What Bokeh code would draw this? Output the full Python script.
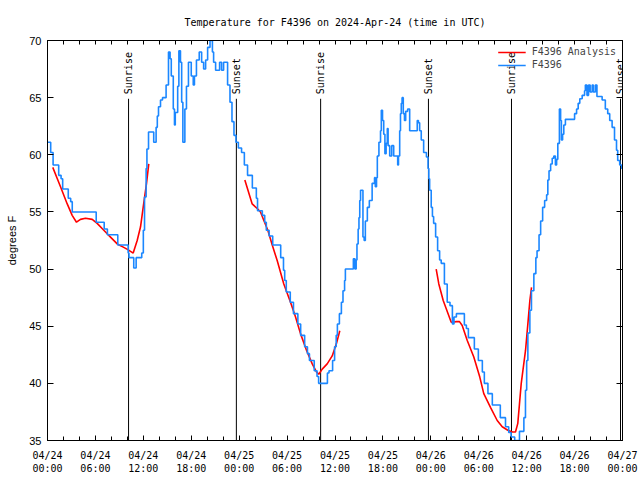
import math
from bokeh.plotting import figure
from bokeh.models import (FixedTicker, Range1d, LinearAxis, ColumnDataSource,
                          Legend, LegendItem)
from bokeh.embed import file_html
from bokeh.resources import INLINE
from bokeh.core.properties import value

# ---------------- data ----------------
title_text = "Temperature for F4396 on 2024-Apr-24 (time in UTC)"
y_label = "degrees F"
obs_name = "F4396"
ana_name = "F4396 Analysis"

# hours since 2024-04-24 00:00 UTC
obs_hours = [0.0, 0.4, 0.7, 1.4, 1.7, 1.9, 2.6, 2.9, 3.1, 6.1, 7.1, 7.5, 8.8, 10.1, 10.2, 10.8, 11.1, 11.8,
             12.0, 12.15, 12.35, 12.45, 12.65, 13.3, 13.6, 13.75, 13.9, 14.15, 14.4, 14.85, 15.15, 15.35,
             15.5, 15.75, 15.9, 16.0, 16.3, 16.45, 16.65, 16.8, 16.95, 17.2, 17.4, 17.65, 18.0, 18.25,
             18.4, 18.65, 19.0, 19.3, 19.55, 19.8, 20.05, 20.35, 20.65, 20.8, 21.05, 21.55, 21.8, 22.05,
             22.55, 22.85, 23.1, 23.35, 23.6, 23.9, 24.3, 24.65, 25.05, 25.65, 26.15, 26.3, 26.9, 27.2,
             27.4, 27.75, 28.2, 29.2, 29.55, 29.7, 29.9, 30.4, 30.8, 31.35, 31.7, 32.2, 32.55, 32.8,
             33.4, 33.75, 33.95, 35.05, 35.25, 35.7, 35.95, 36.15, 36.3, 36.55, 36.8, 37.0, 37.2, 37.3,
             38.3, 38.5, 38.65, 38.75, 38.9, 39.0, 39.1, 39.2, 39.5, 39.65, 39.8, 40.05, 40.3, 40.65,
             40.95, 41.05, 41.2, 41.3, 41.5, 41.7, 41.8, 41.95, 42.1, 42.25, 42.4, 42.55, 42.65, 42.85,
             43.1, 43.35, 43.85, 43.95, 44.1, 44.2, 44.3, 44.4, 44.55, 44.7, 44.85, 45.1, 45.35, 46.3,
             46.45, 46.6, 46.8, 47.1, 47.45, 47.65, 47.75, 47.85, 48.05, 48.2, 48.35, 48.6, 48.85, 49.1,
             49.3, 49.7, 50.05, 50.4, 50.7, 50.9, 51.2, 52.2, 52.45, 52.7, 53.45, 53.95, 54.45, 54.7,
             55.15, 55.7, 56.7, 57.35, 57.75, 58.05, 58.5, 59.1, 59.65, 59.85, 60.0, 60.15, 60.4, 60.6,
             60.9, 61.15, 61.3, 61.55, 61.75, 62.0, 62.25, 62.5, 62.65, 62.8, 63.0, 63.2, 63.4, 63.6,
             63.75, 63.9, 64.1, 64.25, 64.35, 64.5, 64.65, 64.85, 66.0, 66.25, 66.45, 66.65, 66.95,
             67.25, 67.35, 67.55, 67.75, 67.95, 68.2, 68.35, 68.6, 68.8, 69.45, 69.85, 70.15, 70.4,
             70.7, 71.0, 71.25, 71.4, 71.65, 71.9, 72.0]
obs_temps = [61.1, 60.2, 59.1, 58.2, 57.9, 57.0, 56.2, 55.9, 55.0, 54.1, 53.5, 53.0, 52.1, 51.4, 51.0, 50.1, 51.0, 51.4,
             53.4, 56.3, 58.8, 60.5, 62.0, 61.1, 62.4, 63.4, 64.2, 64.8, 65.0, 66.1, 69.0, 68.4,
             66.9, 64.0, 62.6, 63.7, 66.0, 69.1, 68.1, 64.6, 61.1, 64.0, 66.0, 68.1, 66.9, 66.1,
             66.9, 68.3, 69.0, 68.1, 67.5, 68.3, 69.4, 70.0, 69.0, 68.1, 67.4, 68.1, 67.4, 68.1,
             66.1, 64.6, 62.9, 61.7, 61.1, 60.6, 60.2, 59.1, 58.2, 57.1, 56.2, 55.1, 54.7, 54.1,
             53.4, 52.9, 52.1, 51.0, 49.9, 49.0, 48.0, 47.1, 46.1, 45.2, 44.2, 43.2, 42.6, 42.0,
             41.1, 40.6, 40.0, 40.9, 41.1, 42.0, 43.2, 44.2, 45.2, 46.1, 47.1, 48.1, 49.0, 50.0,
             50.9, 50.0, 50.8, 52.2, 53.5, 54.5, 56.0, 56.9, 52.8, 52.5, 54.2, 55.4, 56.0, 57.5,
             58.0, 57.2, 58.0, 59.9, 61.1, 62.1, 63.9, 63.0, 61.8, 60.1, 61.0, 62.3, 60.8, 59.9,
             60.8, 59.9, 59.1, 59.9, 62.1, 63.6, 64.5, 65.0, 63.6, 63.0, 63.8, 64.0, 62.1, 63.0,
             62.8, 62.1, 61.3, 60.2, 59.8, 58.8, 57.9, 56.9, 55.4, 54.6, 54.0, 52.8, 51.6, 50.8,
             50.5, 48.7, 47.1, 46.8, 45.2, 45.8, 46.1, 45.1, 44.8, 44.0, 43.0, 42.0, 41.0, 40.0,
             39.1, 38.1, 37.0, 36.2, 35.7, 35.3, 35.0, 35.8, 37.0, 39.4, 42.0, 44.4, 46.4, 48.1,
             49.6, 51.0, 51.6, 53.0, 54.2, 55.4, 56.0, 56.5, 57.8, 58.6, 59.2, 59.7, 59.9, 59.1,
             59.6, 61.0, 64.0, 63.0, 61.3, 61.8, 62.6, 63.1, 63.6, 64.0, 64.5, 64.9, 65.2,
             65.6, 66.1, 65.2, 66.1, 65.5, 66.1, 65.5, 66.1, 65.1, 64.8, 64.0, 63.6, 63.0,
             62.4, 61.3, 60.4, 59.5, 59.1, 58.8, 58.8]

ana1_hours = [0.66, 1.63, 2.47, 3.09, 3.63, 4.13, 4.76, 5.6, 6.22, 7.05, 7.89, 8.73, 9.55, 10.06,
              10.73, 11.23, 11.65, 11.98, 12.4, 12.68]
ana1_temps = [58.9, 57.2, 55.7, 54.7, 54.1, 54.35, 54.45, 54.35, 54.0, 53.4, 52.8, 52.2, 51.9, 51.7,
              51.4, 52.5, 53.7, 55.4, 57.5, 59.2]
ana2_hours = [24.71, 25.63, 26.26, 26.67, 27.09, 27.59, 28.14, 28.76, 29.59, 30.43, 31.06, 31.68,
              32.43, 33.15, 33.68, 33.97, 34.4, 35.02, 35.65, 36.19, 36.6]
ana2_temps = [57.8, 55.7, 55.3, 55.0, 54.25, 53.4, 52.1, 50.75, 48.7, 47.1, 45.8, 44.35,
              42.9, 41.7, 41.0, 40.8, 41.25, 41.7, 42.4, 43.5, 44.6]
ana3_hours = [48.67, 49.0, 49.55, 50.55, 51.22, 51.59, 51.93, 52.56, 53.38, 54.13, 54.63, 55.47,
              56.31, 56.94, 57.64, 58.23, 58.6, 58.89, 59.1, 59.32, 59.86, 60.15, 60.4, 60.61]
ana3_temps = [50.0, 48.7, 47.25, 45.35, 45.4, 45.4, 45.06, 43.75, 42.3, 40.55, 39.1, 37.9,
              36.75, 36.2, 35.9, 35.75, 35.75, 36.5, 38.2, 40.0, 42.9, 45.2, 47.25, 48.4]

sun_hours = [10.15, 23.65, 34.2, 47.7, 58.1, 71.75]
sun_names = ["Sunrise", "Sunset", "Sunrise", "Sunset", "Sunrise", "Sunset"]

x_ticks = list(range(0, 73, 6))
x_minor = list(range(0, 73, 2))
x_tick_labels = ["04/24\n00:00", "04/24\n06:00", "04/24\n12:00", "04/24\n18:00",
                 "04/25\n00:00", "04/25\n06:00", "04/25\n12:00", "04/25\n18:00",
                 "04/26\n00:00", "04/26\n06:00", "04/26\n12:00", "04/26\n18:00",
                 "04/27\n00:00"]
y_ticks = [35, 40, 45, 50, 55, 60, 65, 70]

# ---------------- figure ----------------
MONO = "DejaVu Sans Mono"
SANS = "Liberation Sans"

p = figure(width=640, height=480, output_backend="svg", toolbar_location=None,
           x_range=Range1d(0, 72), y_range=Range1d(35, 70),
           min_border_left=47, min_border_right=18, min_border_top=40, min_border_bottom=40)
p.grid.visible = False
p.outline_line_color = "black"
p.outline_line_width = 1
p.background_fill_color = "white"
p.border_fill_color = "white"

p.title.text = title_text
p.title.align = "center"
p.title.text_font = MONO
p.title.text_font_size = "10px"
p.title.text_font_style = "normal"
p.title.text_color = "black"
p.title.standoff = 26

xt = FixedTicker(ticks=x_ticks, minor_ticks=x_minor)
yt = FixedTicker(ticks=y_ticks, minor_ticks=[])
overrides = {h: lab for h, lab in zip(x_ticks, x_tick_labels)}

xa = p.xaxis[0]
xa.ticker = xt
xa.major_label_overrides = overrides
xa.major_tick_in = 5
xa.major_tick_out = 0
xa.minor_tick_in = 4
xa.minor_tick_out = 0
xa.major_label_standoff = 9
xa.major_label_text_font = MONO
xa.major_label_text_font_size = "10px"
xa.major_label_text_color = "black"
xa.axis_line_color = "black"

ya = p.yaxis[0]
ya.ticker = yt
ya.major_tick_in = 6
ya.major_tick_out = 0
ya.minor_tick_in = 0
ya.minor_tick_out = 0
ya.major_label_standoff = 6
ya.major_label_text_font = SANS
ya.major_label_text_font_size = "11px"
ya.major_label_text_color = "black"
ya.axis_label = y_label
ya.axis_label_text_font = SANS
ya.axis_label_text_font_size = "11px"
ya.axis_label_text_font_style = "normal"
ya.axis_label_text_color = "black"
ya.axis_label_standoff = 8
ya.axis_line_color = "black"

# mirrored ticks on top and right (minor ticks only, so no labels)
top_ax = LinearAxis(ticker=FixedTicker(ticks=[], minor_ticks=x_minor),
                    major_tick_in=0, major_tick_out=0, minor_tick_in=4, minor_tick_out=0,
                    major_label_standoff=0, axis_line_color="black")
right_ax = LinearAxis(ticker=FixedTicker(ticks=[], minor_ticks=y_ticks),
                      major_tick_in=0, major_tick_out=0, minor_tick_in=6, minor_tick_out=0,
                      major_label_standoff=0, axis_line_color="black")
p.add_layout(top_ax, "above")
p.add_layout(right_ax, "right")

# sunrise / sunset markers
sun_src = ColumnDataSource(dict(x=sun_hours, name=sun_names,
                                y0=[35] * len(sun_hours), y1=[64.9] * len(sun_hours),
                                ty=[65.3] * len(sun_hours)))
p.segment(x0="x", y0="y0", x1="x", y1="y1", source=sun_src, line_color="black", line_width=1)
p.text(x="x", y="ty", text="name", source=sun_src, angle=math.pi / 2,
       text_align="left", text_baseline="middle", text_font=value(MONO),
       text_font_size="10px", text_color="black")

# analysis (red) with gaps
nan = float("nan")
ana_hours = ana1_hours + [nan] + ana2_hours + [nan] + ana3_hours
ana_temps = ana1_temps + [nan] + ana2_temps + [nan] + ana3_temps
r_ana = p.line(ana_hours, ana_temps, line_color="#ff0000", line_width=1.6)

# observations (blue)
r_obs = p.step(obs_hours, obs_temps, mode="after", line_color="#1b87ff", line_width=1.6)

legend = Legend(items=[LegendItem(label=ana_name, renderers=[r_ana]),
                       LegendItem(label=obs_name, renderers=[r_obs])],
                location="top_right")
legend.background_fill_alpha = 0
legend.border_line_alpha = 0
legend.label_text_font = MONO
legend.label_text_font_size = "10px"
legend.glyph_height = 10
legend.glyph_width = 28
legend.label_height = 10
legend.spacing = 2
legend.padding = 4
legend.margin = 2
legend.label_standoff = 6
p.add_layout(legend)

open("out.html", "w").write(file_html(p, INLINE))
